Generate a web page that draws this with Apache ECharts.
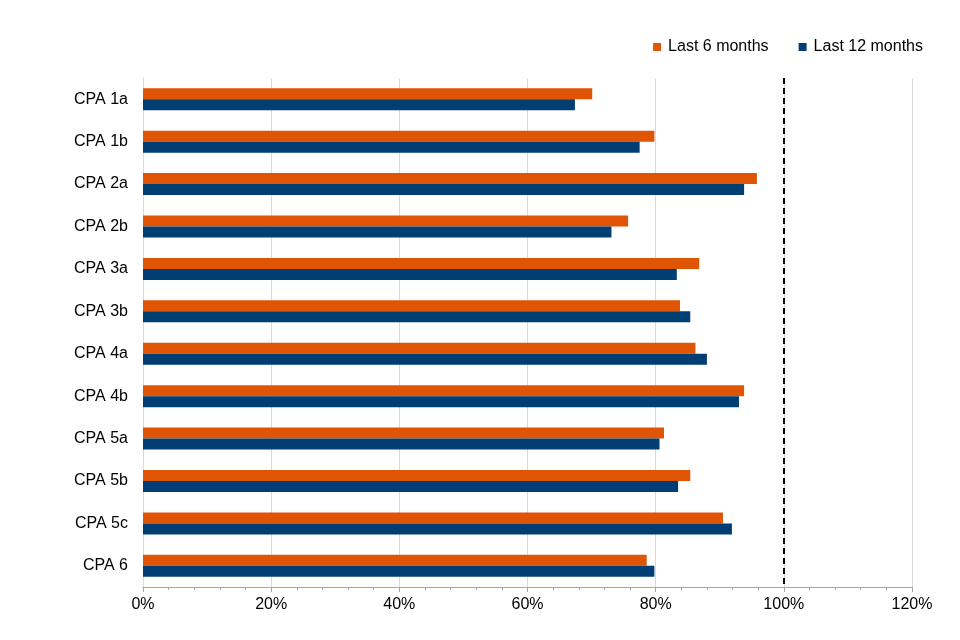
<!DOCTYPE html>
<html><head><meta charset="utf-8">
<script src="https://cdn.jsdelivr.net/npm/echarts@6/dist/echarts.min.js"></script>
<style>html,body{margin:0;padding:0;background:#fff}#c{width:960px;height:640px}</style>
</head><body><div id="c"></div>
<script>
const categories = ['CPA 1a','CPA 1b','CPA 2a','CPA 2b','CPA 3a','CPA 3b','CPA 4a','CPA 4b','CPA 5a','CPA 5b','CPA 5c','CPA 6'];
const last6 = [70.1, 79.8, 95.8, 75.7, 86.8, 83.8, 86.2, 93.8, 81.3, 85.4, 90.5, 78.6];
const last12 = [67.4, 77.5, 93.8, 73.1, 83.3, 85.4, 88.0, 93.0, 80.6, 83.5, 91.9, 79.8];
const xTicks = [0, 20, 40, 60, 80, 100, 120];
const target = 100;

const chart = echarts.init(document.getElementById('c'));
const font = '"Liberation Sans", Arial, sans-serif';
chart.setOption({
  animation: false,
  textStyle: {fontFamily: font},
  legend: {
    top: 34, right: 32,
    itemWidth: 8, itemHeight: 8, itemGap: 30,
    icon: 'rect',
    textStyle: {fontSize: 16, color: '#000', fontFamily: font, padding: [0, 0, 0, 2]},
    data: ['Last 6 months', 'Last 12 months']
  },
  grid: {left: 143, right: 48, top: 78, bottom: 53, containLabel: false},
  xAxis: {
    type: 'value', min: xTicks[0], max: xTicks[xTicks.length-1], interval: 20,
    axisLabel: {formatter: v => v + '%', fontSize: 16, color: '#000', margin: 10, fontFamily: font},
    axisLine: {show: true, lineStyle: {color: '#a6a6a6', width: 1}},
    axisTick: {show: true, length: 5, lineStyle: {color: '#a6a6a6'}},
    minorTick: {show: true, splitNumber: 5, length: 3, lineStyle: {color: '#a6a6a6'}},
    splitLine: {show: true, lineStyle: {color: '#d9d9d9', width: 1}}
  },
  yAxis: {
    type: 'category', data: categories, inverse: true,
    axisLabel: {fontSize: 16, color: '#000', margin: 15, fontFamily: font},
    axisLine: {show: true, lineStyle: {color: '#d9d9d9'}},
    axisTick: {show: false}
  },
  series: [
    {name: 'Last 6 months', type: 'bar', data: last6, barWidth: 11, barGap: '0%',
     itemStyle: {color: '#DF5505'},
     markLine: {silent: true, symbol: 'none', label: {show: false},
       lineStyle: {color: '#000', type: [6, 4], width: 2},
       data: [{xAxis: target}]}},
    {name: 'Last 12 months', type: 'bar', data: last12, barWidth: 11, barGap: '0%',
     itemStyle: {color: '#003E74'}}
  ]
});
</script></body></html>
